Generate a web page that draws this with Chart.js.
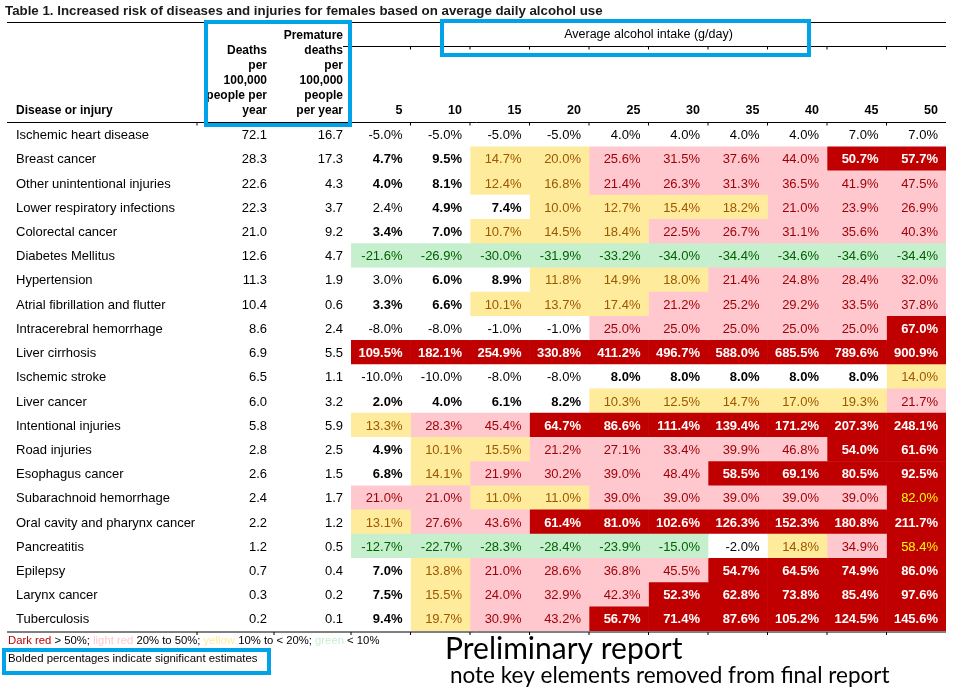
<!DOCTYPE html>
<html>
<head>
<meta charset="utf-8">
<script src="https://cdn.jsdelivr.net/npm/chart.js@4.4.1/dist/chart.umd.min.js"></script>
<style>
  html, body { margin: 0; padding: 0; background: #fff; }
  canvas { display: block; }
</style>
</head>
<body>
<canvas id="risk-table" width="965" height="695"></canvas>
<script>
const diseases = [
  "Ischemic heart disease", "Breast cancer", "Other unintentional injuries",
  "Lower respiratory infections", "Colorectal cancer", "Diabetes Mellitus",
  "Hypertension", "Atrial fibrillation and flutter", "Intracerebral hemorrhage",
  "Liver cirrhosis", "Ischemic stroke", "Liver cancer", "Intentional injuries",
  "Road injuries", "Esophagus cancer", "Subarachnoid hemorrhage",
  "Oral cavity and pharynx cancer", "Pancreatitis", "Epilepsy",
  "Larynx cancer", "Tuberculosis"
];
const deaths = [72.1, 28.3, 22.6, 22.3, 21.0, 12.6, 11.3, 10.4, 8.6, 6.9, 6.5, 6.0, 5.8, 2.8, 2.6, 2.4, 2.2, 1.2, 0.7, 0.3, 0.2];
const prematureDeaths = [16.7, 17.3, 4.3, 3.7, 9.2, 4.7, 1.9, 0.6, 2.4, 5.5, 1.1, 3.2, 5.9, 2.5, 1.5, 1.7, 1.2, 0.5, 0.4, 0.2, 0.1];
const intakeLevels = ["5", "10", "15", "20", "25", "30", "35", "40", "45", "50"];
const riskValues = [
  [-5.0, -5.0, -5.0, -5.0, 4.0, 4.0, 4.0, 4.0, 7.0, 7.0],
  [4.7, 9.5, 14.7, 20.0, 25.6, 31.5, 37.6, 44.0, 50.7, 57.7],
  [4.0, 8.1, 12.4, 16.8, 21.4, 26.3, 31.3, 36.5, 41.9, 47.5],
  [2.4, 4.9, 7.4, 10.0, 12.7, 15.4, 18.2, 21.0, 23.9, 26.9],
  [3.4, 7.0, 10.7, 14.5, 18.4, 22.5, 26.7, 31.1, 35.6, 40.3],
  [-21.6, -26.9, -30.0, -31.9, -33.2, -34.0, -34.4, -34.6, -34.6, -34.4],
  [3.0, 6.0, 8.9, 11.8, 14.9, 18.0, 21.4, 24.8, 28.4, 32.0],
  [3.3, 6.6, 10.1, 13.7, 17.4, 21.2, 25.2, 29.2, 33.5, 37.8],
  [-8.0, -8.0, -1.0, -1.0, 25.0, 25.0, 25.0, 25.0, 25.0, 67.0],
  [109.5, 182.1, 254.9, 330.8, 411.2, 496.7, 588.0, 685.5, 789.6, 900.9],
  [-10.0, -10.0, -8.0, -8.0, 8.0, 8.0, 8.0, 8.0, 8.0, 14.0],
  [2.0, 4.0, 6.1, 8.2, 10.3, 12.5, 14.7, 17.0, 19.3, 21.7],
  [13.3, 28.3, 45.4, 64.7, 86.6, 111.4, 139.4, 171.2, 207.3, 248.1],
  [4.9, 10.1, 15.5, 21.2, 27.1, 33.4, 39.9, 46.8, 54.0, 61.6],
  [6.8, 14.1, 21.9, 30.2, 39.0, 48.4, 58.5, 69.1, 80.5, 92.5],
  [21.0, 21.0, 11.0, 11.0, 39.0, 39.0, 39.0, 39.0, 39.0, 82.0],
  [13.1, 27.6, 43.6, 61.4, 81.0, 102.6, 126.3, 152.3, 180.8, 211.7],
  [-12.7, -22.7, -28.3, -28.4, -23.9, -15.0, -2.0, 14.8, 34.9, 58.4],
  [7.0, 13.8, 21.0, 28.6, 36.8, 45.5, 54.7, 64.5, 74.9, 86.0],
  [7.5, 15.5, 24.0, 32.9, 42.3, 52.3, 62.8, 73.8, 85.4, 97.6],
  [9.4, 19.7, 30.9, 43.2, 56.7, 71.4, 87.6, 105.2, 124.5, 145.6]
];
// w = plain, b = bold (significant), y = yellow, p = light red, g = green, d = dark red, x = dark red w/ yellow text
const cellClass = [
  "wwwwwwwwww", "bbyyppppdd", "bbyypppppp", "wbbyyyyppp", "bbyyyppppp",
  "gggggggggg", "wbbyyypppp", "bbyyyppppp", "wwwwpppppd", "dddddddddd",
  "wwwwbbbbby", "bbbbyyyyyp", "yppddddddd", "byypppppdd", "byppppdddd",
  "ppyypppppx", "yppddddddd", "ggggggwypx", "byppppdddd", "bypppddddd",
  "byppdddddd"
];

const cellFill = { w: "#ffffff", b: "#ffffff", y: "#FFEB9C", p: "#FFC7CE", g: "#C6EFCE", d: "#C00000", x: "#C00000" };
const cellInk = { w: "#000000", b: "#000000", y: "#9C5700", p: "#9C0006", g: "#006100", d: "#ffffff", x: "#FFFF00" };
const boldClass = "bd";
const FONT = "'Liberation Sans', Arial, sans-serif";
const BLUE = "#00A2E8";

const tableText = {
  id: "tableText",
  afterDatasetsDraw(chart) {
    const { ctx, chartArea, scales: { x, y } } = chart;
    ctx.save();
    ctx.textBaseline = "middle";

    // values inside the cells
    chart.data.datasets.forEach((ds, c) => {
      chart.getDatasetMeta(c).data.forEach((bar, r) => {
        const k = cellClass[r][c];
        ctx.font = (boldClass.includes(k) ? "bold " : "") + "13px " + FONT;
        ctx.fillStyle = cellInk[k];
        ctx.textAlign = "right";
        ctx.fillText(riskValues[r][c].toFixed(1) + "%", bar.x - 8, bar.y + 1);
      });
    });

    // deaths columns
    ctx.font = "13px " + FONT;
    ctx.fillStyle = "#000";
    ctx.textAlign = "right";
    diseases.forEach((d, r) => {
      const py = y.getPixelForValue(r) + 1;
      ctx.fillText(deaths[r].toFixed(1), 267, py);
      ctx.fillText(prematureDeaths[r].toFixed(1), 343, py);
    });

    // header
    ctx.font = "bold 12px " + FONT;
    ctx.textAlign = "left";
    ctx.fillText("Disease or injury", 16, 111);
    ctx.textAlign = "right";
    ["Deaths", "per", "100,000", "people per", "year"].forEach((t, i) => ctx.fillText(t, 267, 51 + i * 15));
    ["Premature", "deaths", "per", "100,000", "people", "per year"].forEach((t, i) => ctx.fillText(t, 343, 36 + i * 15));
    const colW = x.getPixelForValue(1) - x.getPixelForValue(0);
    ctx.font = "bold 12.5px " + FONT;
    intakeLevels.forEach((lvl, c) => ctx.fillText(lvl, x.getPixelForValue(c) + colW - 8, 111));
    ctx.font = "12.5px " + FONT;
    ctx.textAlign = "center";
    ctx.fillText("Average alcohol intake (g/day)", (chartArea.left + chartArea.right) / 2, 35);

    ctx.font = "bold 13.3px " + FONT;
    ctx.textAlign = "left";
    ctx.fillStyle = "#1a1a1a";
    ctx.fillText("Table 1. Increased risk of diseases and injuries for females based on average daily alcohol use", 5, 11);

    // rules
    ctx.strokeStyle = "#000";
    ctx.lineWidth = 1;
    const rule = (x0, x1, yy) => { ctx.beginPath(); ctx.moveTo(x0, yy); ctx.lineTo(x1, yy); ctx.stroke(); };
    rule(7, chartArea.right, 22.5);
    rule(chartArea.left - 8, chartArea.right, 46.5);
    rule(7, chartArea.right, chartArea.top);
    rule(7, chartArea.right, chartArea.bottom + 1);
    const ticks = [197, 274, chartArea.left];
    for (let c = 1; c < intakeLevels.length; c++) ticks.push(x.getPixelForValue(c));
    ticks.forEach((tx, i) => {
      [chartArea.top, chartArea.bottom + 1].forEach(yy => {
        ctx.beginPath(); ctx.moveTo(tx, yy); ctx.lineTo(tx, yy + 3); ctx.stroke();
      });
      if (i >= 2) { ctx.beginPath(); ctx.moveTo(tx, 46.5); ctx.lineTo(tx, 49.5); ctx.stroke(); }
    });

    // colour key
    ctx.font = "11.3px " + FONT;
    ctx.textAlign = "left";
    let kx = 8;
    [["Dark red", "#C00000"], [" > 50%; ", "#000"], ["light red", "#FFC7CE"], [" 20% to 50%; ", "#000"],
     ["yellow", "#FFEB9C"], [" 10% to < 20%; ", "#000"], ["green", "#C6EFCE"], [" < 10%", "#000"]].forEach(([t, col]) => {
      ctx.fillStyle = col;
      ctx.fillText(t, kx, 641);
      kx += ctx.measureText(t).width;
    });
    ctx.fillStyle = "#000";
    ctx.font = "11.4px " + FONT;
    ctx.fillText("Bolded percentages indicate significant estimates", 8, 659);

    ctx.textBaseline = "alphabetic";
    ctx.font = "30px Lato, 'Open Sans', sans-serif";
    ctx.fillText("Preliminary report", 445, 659);
    ctx.font = "22.5px Lato, 'Open Sans', sans-serif";
    ctx.fillText("note key elements removed from final report", 450, 683);

    // blue callout boxes
    ctx.strokeStyle = BLUE;
    ctx.lineWidth = 4;
    ctx.strokeRect(206, 22, 144, 103);
    ctx.strokeRect(442, 21, 367, 34);
    ctx.strokeRect(4, 650, 265, 23);
    ctx.restore();
  }
};

const ctx = document.getElementById("risk-table").getContext("2d");
const riskChart = new Chart(ctx, {
  type: "bar",
  data: {
    labels: diseases,
    datasets: intakeLevels.map((lvl, c) => ({
      label: lvl + " g/day",
      data: diseases.map(() => 1),
      backgroundColor: (item) => cellFill[cellClass[item.dataIndex][c]],
      borderWidth: 0,
      barPercentage: 1,
      categoryPercentage: 1,
    })),
  },
  options: {
    indexAxis: "y",
    responsive: false,
    animation: false,
    events: [],
    devicePixelRatio: 1,
    layout: { padding: { left: 16, right: 19, top: 122.5, bottom: 64 } },
    plugins: { legend: { display: false }, tooltip: { enabled: false } },
    scales: {
      x: { type: "linear", min: 0, max: intakeLevels.length, stacked: true, display: false },
      y: {
        stacked: true,
        grid: { display: false },
        border: { display: false },
        ticks: { autoSkip: false, crossAlign: "far", labelOffset: 1, color: "#000", font: { family: FONT, size: 13 } },
        afterFit: (scale) => { scale.width = 335; },
      },
    },
  },
  plugins: [tableText],
});
</script>
</body>
</html>
